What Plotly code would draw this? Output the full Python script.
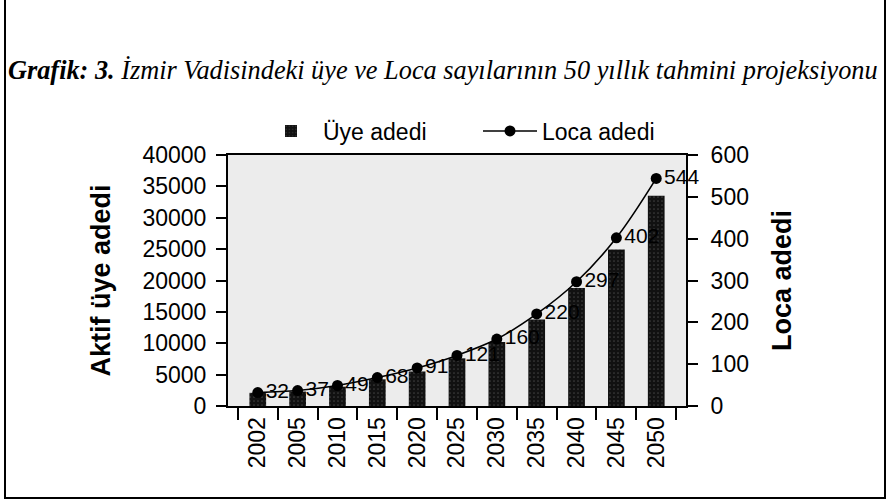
import plotly.graph_objects as go

years = ["2002", "2005", "2010", "2015", "2020", "2025", "2030", "2035", "2040", "2045", "2050"]
uye_adedi = [2100, 2300, 3080, 4250, 5500, 7600, 10200, 13800, 18800, 24950, 33500]
loca_adedi = [32, 37, 49, 68, 91, 121, 160, 220, 297, 402, 544]

W, H = 888, 500
L, R, T, B = 228, 686, 155, 406

def px(x):
    return (x - L) / (R - L)

def py(y):
    return (B - y) / (B - T)

SANS = "Liberation Sans, Arial"

fig = go.Figure()
fig.add_trace(go.Bar(
    x=years, y=uye_adedi, name="Üye adedi", width=0.42,
    marker=dict(color="#111111", line=dict(width=0),
                pattern=dict(shape=".", fgcolor="#6a6a6a", bgcolor="#111111", size=4, solidity=0.15)),
    yaxis="y",
))
fig.add_trace(go.Scatter(
    x=years, y=loca_adedi, name="Loca adedi", mode="lines+markers+text",
    line=dict(color="black", width=1.6, shape="spline"),
    marker=dict(color="black", size=11),
    text=[str(v) for v in loca_adedi], textposition="middle right",
    textfont=dict(family=SANS, size=21, color="black"),
    cliponaxis=False,
    yaxis="y2",
))

tickfont = dict(family=SANS, size=23, color="black")
fig.update_layout(
    width=W, height=H,
    margin=dict(l=L, r=W - R, t=T, b=H - B, pad=0),
    paper_bgcolor="white", plot_bgcolor="#ececec",
    showlegend=True,
    legend=dict(orientation="h", x=px(478), xanchor="center", y=py(131), yanchor="middle",
                font=dict(family=SANS, size=23, color="black"),
                itemwidth=54, entrywidth=150, bgcolor="rgba(0,0,0,0)"),
    xaxis=dict(type="category", showline=True, linecolor="black", linewidth=2, mirror=True,
               ticks="outside", tickson="boundaries", ticklen=12, tickwidth=1.5, tickcolor="black",
               tickangle=-90, tickfont=tickfont, showgrid=False),
    yaxis=dict(range=[0, 40000], dtick=5000, tickformat="d", showline=True, linecolor="black", linewidth=2,
               ticks="outside", ticklen=10, tickwidth=2, tickcolor="black", ticklabelstandoff=5,
               tickfont=tickfont, showgrid=False, zeroline=False,
               title=dict(text="<b>Aktif üye adedi</b>", standoff=24,
                          font=dict(family=SANS, size=27, color="black"))),
    yaxis2=dict(range=[0, 600], dtick=100, tickformat="d", overlaying="y", side="right", showline=True,
                linecolor="black", linewidth=2, ticks="outside", ticklen=10, tickwidth=2,
                tickcolor="black", ticklabelstandoff=8, tickfont=tickfont, showgrid=False, zeroline=False,
                title=dict(text="<b>Loca adedi</b>", standoff=24,
                           font=dict(family=SANS, size=27, color="black"))),
    annotations=[dict(
        text="<i><b>Grafik: 3.</b> İzmir Vadisindeki üye ve Loca sayılarının 50 yıllık tahmini projeksiyonu</i>",
        x=px(443), y=py(70), xref="paper", yref="paper", xanchor="center", yanchor="middle",
        showarrow=False, font=dict(family="Liberation Serif, Times New Roman", size=26.3, color="black"))],
    shapes=[
        dict(type="rect", xref="paper", yref="paper",
             x0=px(5), x1=px(885), y0=py(498), y1=py(-4),
             line=dict(color="black", width=2), fillcolor="rgba(0,0,0,0)", layer="below"),
    ],
)

fig.write_html("out.html", config={"displayModeBar": False},
               post_script="document.body.style.margin='0';document.body.style.overflow='hidden';")
